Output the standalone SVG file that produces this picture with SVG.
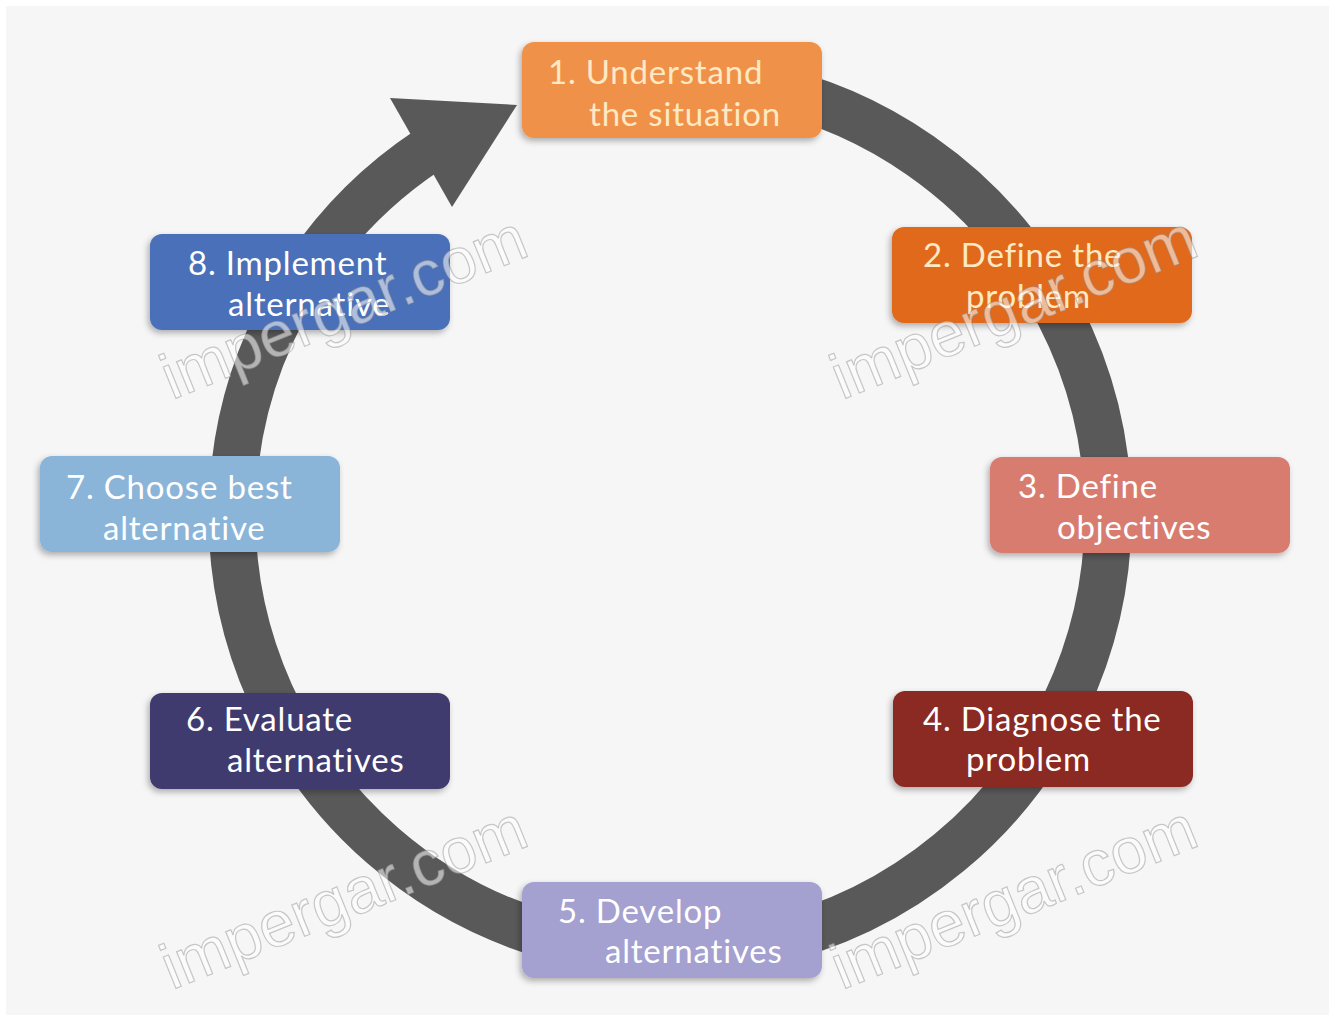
<svg xmlns="http://www.w3.org/2000/svg" width="1335" height="1021" viewBox="0 0 1335 1021">
<defs>
<style>
.box{stroke:none}
.lbl{font-family:Lato,"Open Sans","Liberation Sans",sans-serif;font-size:33px;letter-spacing:0.8px;fill:#ffffff}
.warm{fill:#fde9c4}
.wm{font-family:"Liberation Sans",Arial,sans-serif;font-size:64px;fill:#ffffff;fill-opacity:0.55;stroke:#8a8a8a;stroke-opacity:0.45;stroke-width:1.2}
</style>
<filter id="sh" x="-10%" y="-20%" width="120%" height="150%">
<feDropShadow dx="-2" dy="3" stdDeviation="3" flood-color="#000" flood-opacity="0.3"/>
</filter>
</defs>
<rect x="0" y="0" width="1335" height="1021" fill="#ffffff"/>
<rect x="6" y="6" width="1323" height="1009" fill="#f6f6f6"/>
<g id="connectors">
<path d="M 746.06,83.65 A 438 438 0 1 1 428.3,149.8" fill="none" stroke="#595959" stroke-width="47"/>
<polygon points="390,98 517,105 452,207" fill="#595959"/>
</g>
<g id="node1"><rect class="box" x="522" y="42" width="300" height="96" rx="12" fill="#f0914a" filter="url(#sh)"/>
<text class="lbl warm" x="548" y="84">1. Understand</text><text class="lbl warm" x="589" y="126">the situation</text></g>
<g id="node2"><rect class="box" x="892" y="227" width="300" height="96" rx="12" fill="#e0691f" filter="url(#sh)"/>
<text class="lbl warm" x="923" y="267">2. Define the</text><text class="lbl warm" x="966" y="308">problem</text></g>
<g id="node3"><rect class="box" x="990" y="457" width="300" height="96" rx="12" fill="#d97c70" filter="url(#sh)"/>
<text class="lbl" x="1018" y="498">3. Define</text><text class="lbl" x="1057" y="539">objectives</text></g>
<g id="node4"><rect class="box" x="893" y="691" width="300" height="96" rx="12" fill="#8a2a22" filter="url(#sh)"/>
<text class="lbl" x="923" y="731">4. Diagnose the</text><text class="lbl" x="966" y="771">problem</text></g>
<g id="node5"><rect class="box" x="522" y="882" width="300" height="96" rx="12" fill="#a4a0d0" filter="url(#sh)"/>
<text class="lbl" x="558" y="923">5. Develop</text><text class="lbl" x="605" y="963">alternatives</text></g>
<g id="node6"><rect class="box" x="150" y="693" width="300" height="96" rx="12" fill="#403a6e" filter="url(#sh)"/>
<text class="lbl" x="186" y="731">6. Evaluate</text><text class="lbl" x="227" y="772">alternatives</text></g>
<g id="node7"><rect class="box" x="40" y="456" width="300" height="96" rx="12" fill="#8ab4d8" filter="url(#sh)"/>
<text class="lbl" x="66" y="499">7. Choose best</text><text class="lbl" x="103" y="540">alternative</text></g>
<g id="node8"><rect class="box" x="150" y="234" width="300" height="96" rx="12" fill="#4a70b8" filter="url(#sh)"/>
<text class="lbl" x="188" y="275">8. Implement</text><text class="lbl" x="228" y="316">alternative</text></g>
<g id="watermarks">
<text class="wm" transform="translate(172,400) rotate(-22)">impergar.com</text>
<text class="wm" transform="translate(842,400) rotate(-22)">impergar.com</text>
<text class="wm" transform="translate(172,990) rotate(-22)">impergar.com</text>
<text class="wm" transform="translate(842,990) rotate(-22)">impergar.com</text>
</g>
</svg>
